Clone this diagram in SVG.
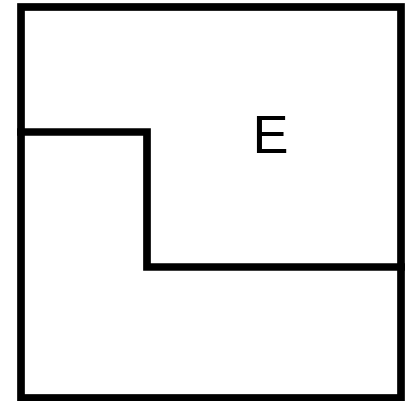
<svg xmlns="http://www.w3.org/2000/svg" width="410" height="401" viewBox="0 0 410 401">
<style>.ln{fill:none;stroke:#000;stroke-width:7.7;stroke-linecap:square;stroke-linejoin:miter}.lb{font-family:"Liberation Sans",Arial,sans-serif;font-size:54px;fill:#000}</style>
<rect width="410" height="401" fill="#fff"/>
<g id="outer"><rect class="ln" x="21" y="7" width="380" height="391"/></g>
<g id="divider"><polyline class="ln" points="21,132 147,132 147,267 401,267"/></g>
<g id="E"><text class="lb" x="252.4" y="152.7">E</text></g>
</svg>
